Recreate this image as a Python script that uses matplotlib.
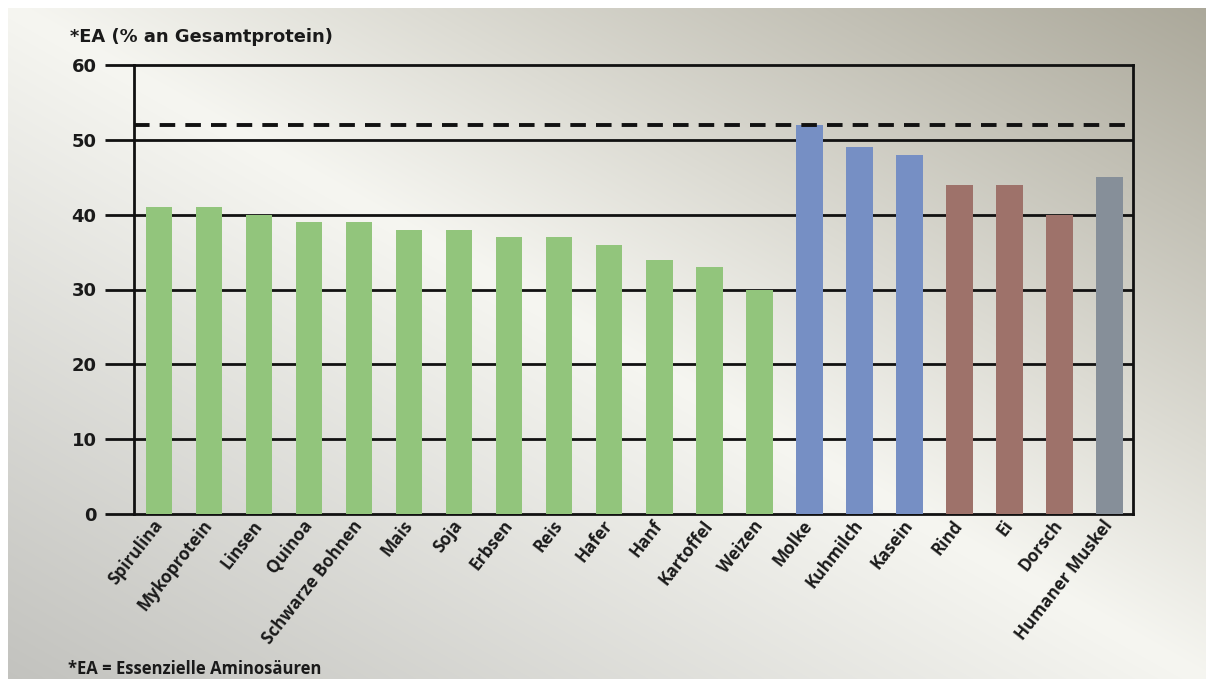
import numpy as np
import matplotlib.pyplot as plt

categories = ["Spirulina", "Mykoprotein", "Linsen", "Quinoa", "Schwarze Bohnen",
              "Mais", "Soja", "Erbsen", "Reis", "Hafer", "Hanf", "Kartoffel",
              "Weizen", "Molke", "Kuhmilch", "Kasein", "Rind", "Ei", "Dorsch",
              "Humaner Muskel"]
values = [41, 41, 40, 39, 39, 38, 38, 37, 37, 36, 34, 33, 30,
          52, 49, 48, 44, 44, 40, 45]
groups = ["plant"] * 13 + ["milk"] * 3 + ["animal"] * 3 + ["human"]
ref_line = 52
yticks = [0, 10, 20, 30, 40, 50, 60]

group_colors = {"plant": "#92c57c", "milk": "#768fc4",
                "animal": "#9e726a", "human": "#868f99"}

W, H = 1206, 679
fig = plt.figure(figsize=(W / 100, H / 100), dpi=100)

# background gradient (light diagonal band, darker top right)
yy, xx = np.mgrid[0:H, 0:W]
d = xx / W - yy / H
light = np.array([246, 246, 241])
dark_tr = np.array([170, 167, 153])
dark_bl = np.array([194, 194, 190])
t_tr = np.clip(d, 0, 1)[..., None]
t_bl = np.clip(-d, 0, 1)[..., None]
img = light + (dark_tr - light) * t_tr + (dark_bl - light) * t_bl
img[:8, :] = 255
img[:, :8] = 255
bg = fig.add_axes([0, 0, 1, 1], zorder=-10)
bg.imshow(img.astype(np.uint8), aspect="auto")
bg.axis("off")

ax = fig.add_axes([134 / W, 1 - 514 / H, (1133 - 134) / W, (514 - 65) / H])
ax.set_facecolor("none")

x = np.arange(len(categories))
colors = [group_colors[g] for g in groups]
ax.bar(x, values, width=0.53, color=colors, zorder=3)

for yv in yticks[1:-1]:
    ax.axhline(yv, color="#111111", lw=2, zorder=1)
ax.axhline(ref_line, color="#111111", lw=2.8, ls=(0, (4, 2.6)), zorder=4)

ax.set_xlim(-0.5, len(categories) - 0.53)
ax.set_ylim(0, 60)
ax.set_yticks(yticks)
ax.set_yticklabels([str(v) for v in yticks], fontsize=13, fontweight="bold",
                   family="DejaVu Sans", color="#1a1a1a")
ax.tick_params(axis="y", length=21, width=2, pad=6, color="#111111")
ax.tick_params(axis="x", length=0, pad=6)
ax.set_xticks(x)
ax.set_xticklabels(categories, rotation=52, ha="right", va="center",
                   rotation_mode="anchor", fontsize=12.3, fontweight="bold",
                   family="Open Sans", color="#1a1a1a")
for s in ax.spines.values():
    s.set_linewidth(2)
    s.set_color("#111111")

fig.text(70 / W, 1 - 37 / H, "*EA (% an Gesamtprotein)", fontsize=12.9,
         fontweight="bold", family="DejaVu Sans", color="#1a1a1a",
         ha="left", va="center")
fig.text(68 / W, 1 - 674 / H, "*EA = Essenzielle Aminosäuren", fontsize=12,
         fontweight="bold", family="Open Sans", color="#1a1a1a",
         ha="left", va="baseline")

fig.savefig("out.png", dpi=100)
